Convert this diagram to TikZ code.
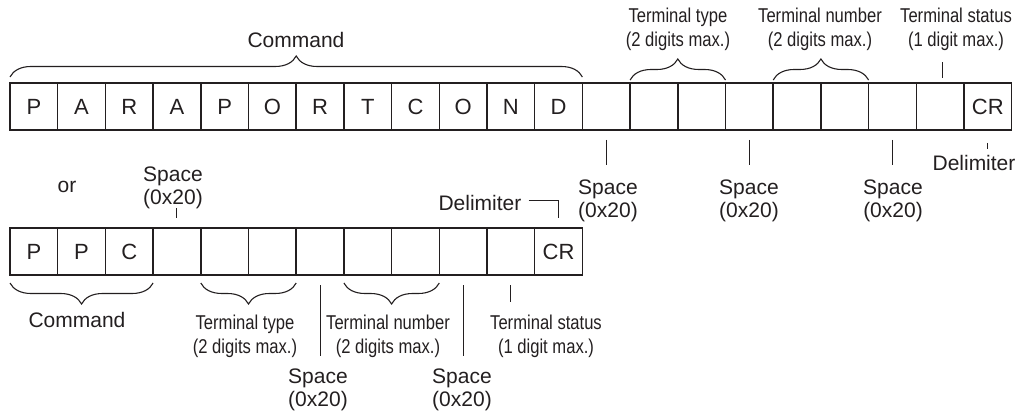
\documentclass[tikz,border=0pt]{standalone}
\usepackage{fontspec}
\setmainfont{Liberation Sans}
\newfontfamily\narrowfont[FakeStretch=0.83]{Liberation Sans}
\usetikzlibrary{decorations.pathreplacing}
\definecolor{ink}{HTML}{231F20}
\newcommand\mainlblfont{\fontsize{21}{23}\selectfont}
\newcommand\narrowlblfont{\narrowfont\fontsize{20}{24}\selectfont}
\newcommand\cellfont{\fontsize{22}{24}\selectfont}
\tikzset{cell/.style={draw=ink,line width=1.5pt,minimum width=47.7pt,minimum height=47pt,inner sep=0pt,outer sep=0pt,text=ink,font=\cellfont},
  lbl/.style={align=center,text=ink,font=\mainlblfont,inner sep=0pt},
  narrowlbl/.style={align=center,text=ink,font=\narrowlblfont,inner sep=0pt},
  leader/.style={draw=ink,line width=1pt},
  curly/.style={draw=ink,line width=1.1pt,decorate,decoration={brace,amplitude=21pt}}}

\begin{document}
\begin{tikzpicture}[x=1pt,y=1pt]
\useasboundingbox (0,0) rectangle (1022,418);
% long form
\foreach \c [count=\i] in {P,A,R,A,P,O,R,T,C,O,N,D,{},{},{},{},{},{},{},{},CR}
  \node[cell] (t\i) at ({10+(\i-0.5)*47.7},311.5) {\c};
% short form
\foreach \c [count=\i] in {P,P,C,{},{},{},{},{},{},{},{},CR}
  \node[cell] (b\i) at ({10+(\i-0.5)*47.7},166.5) {\c};

% labels above the long form
\draw[curly] ([yshift=6pt]t1.north west) -- ([yshift=6pt]t12.north east);
\node[lbl] (cmdlong) at (296,378) {Command};
\draw[curly] ([yshift=3pt]t14.north west) -- ([yshift=3pt]t15.north east);
\node[narrowlbl] (typelong) at (678,389) {Terminal type\\(2 digits max.)};
\draw[curly] ([yshift=3pt]t17.north west) -- ([yshift=3pt]t18.north east);
\node[narrowlbl] (numlong) at (820,389) {Terminal number\\(2 digits max.)};
\draw[leader] ([xshift=2pt,yshift=5pt]t20.north) -- ([xshift=2pt,yshift=21pt]t20.north);
\node[narrowlbl] (statlong) at (956,389) {Terminal status\\(1 digit max.)};

% labels below the long form
\draw[leader] ([yshift=-10pt]t13.south) -- ([yshift=-35pt]t13.south);
\node[lbl] (sp1) at (608,217) {Space\\(0x20)};
\draw[leader] ([yshift=-10pt]t16.south) -- ([yshift=-35pt]t16.south);
\node[lbl] (sp2) at (749,217) {Space\\(0x20)};
\draw[leader] ([yshift=-10pt]t19.south) -- ([yshift=-35pt]t19.south);
\node[lbl] (sp3) at (893,217) {Space\\(0x20)};
\draw[leader] ([yshift=-13pt]t21.south) -- ([yshift=-19pt]t21.south);
\node[lbl] (dellong) at (974,255) {Delimiter};

% labels above the short form
\node[lbl] (or) at (67,231) {or};
\node[lbl] (sp4) at (173,230) {Space\\(0x20)};
\draw[leader] ([yshift=10pt]b4.north) -- ([yshift=20pt]b4.north);
\node[lbl] (delshort) at (480,215) {Delimiter};
\draw[leader] ([xshift=7pt,yshift=2pt]delshort.east) -| ([yshift=10pt]b12.north);

% labels below the short form
\draw[curly] ([yshift=-8pt]b3.south east) -- ([yshift=-8pt]b1.south west);
\node[lbl] (cmdshort) at (77,98) {Command};
\draw[curly] ([yshift=-8pt]b6.south east) -- ([yshift=-8pt]b5.south west);
\node[narrowlbl] (typeshort) at (245,82) {Terminal type\\(2 digits max.)};
\draw[leader] ([yshift=-10pt]b7.south) -- ([yshift=-81pt]b7.south);
\node[lbl] (sp5) at (318,28) {Space\\(0x20)};
\draw[curly] ([yshift=-8pt]b9.south east) -- ([yshift=-8pt]b8.south west);
\node[narrowlbl] (numshort) at (388,82) {Terminal number\\(2 digits max.)};
\draw[leader] ([yshift=-10pt]b10.south) -- ([yshift=-81pt]b10.south);
\node[lbl] (sp6) at (462,28) {Space\\(0x20)};
\draw[leader] ([yshift=-10pt]b11.south) -- ([yshift=-27pt]b11.south);
\node[narrowlbl] (statshort) at (546,82) {Terminal status\\(1 digit max.)};
\end{tikzpicture}
\end{document}
